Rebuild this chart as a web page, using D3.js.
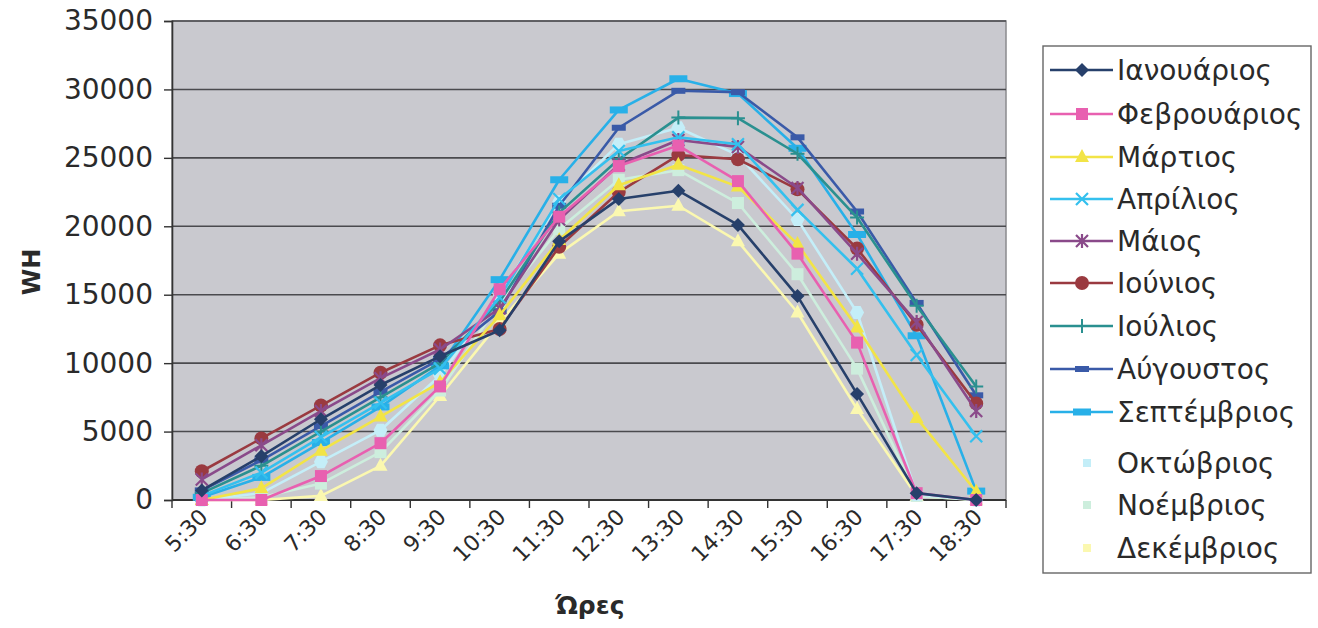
<!DOCTYPE html>
<html>
<head>
<meta charset="utf-8">
<script src="https://cdn.jsdelivr.net/npm/d3@7/dist/d3.min.js"></script>
<style>
  body { margin: 0; background: #ffffff; }
  svg { display: block; font-family: "DejaVu Sans", "Liberation Sans", sans-serif; }
</style>
</head>
<body>
<svg id="chart" width="1318" height="628"></svg>
<script>
// Hourly energy (WH) per month
const hours = ["5:30","6:30","7:30","8:30","9:30","10:30","11:30","12:30","13:30","14:30","15:30","16:30","17:30","18:30"];
const months = ["Ιανουάριος","Φεβρουάριος","Μάρτιος","Απρίλιος","Μάιος","Ιούνιος","Ιούλιος","Αύγουστος","Σεπτέμβριος","Οκτώβριος","Νοέμβριος","Δεκέμβριος"];
const yTicks = [0,5000,10000,15000,20000,25000,30000,35000];

const jan = [700, 3200, 5900, 8400, 10500, 12400, 18900, 22000, 22600, 20100, 14900, 7750, 500, 0];
const feb = [0, 0, 1750, 4150, 8300, 15400, 20700, 24400, 25900, 23300, 18000, 11500, 500, 0];
const mar = [0, 850, 3600, 6100, 8600, 13500, 19000, 23000, 24500, 22900, 18700, 12600, 6000, 600];
const apr = [300, 2000, 4600, 7100, 9600, 14800, 22000, 25500, 26500, 26000, 21200, 16900, 10600, 4660];
const may = [1500, 4000, 6500, 8900, 11000, 14000, 20500, 24500, 26300, 25800, 22800, 18000, 13000, 6500];
const jun = [2100, 4500, 6900, 9300, 11300, 12500, 18500, 22500, 25200, 24900, 22700, 18380, 12800, 7060];
const jul = [500, 2500, 5000, 7500, 10000, 14500, 21000, 24900, 27940, 27900, 25300, 20640, 14200, 8300];
const aug = [700, 2900, 5400, 7900, 10300, 13800, 21500, 27200, 29900, 29800, 26500, 21080, 14400, 7650];
const sep = [200, 1650, 4200, 6800, 9800, 16100, 23400, 28500, 30780, 29700, 25700, 19400, 12000, 650];
const oct = [0, 500, 2800, 5100, 9100, 15000, 21800, 26000, 27200, 25200, 20500, 13700, 400, 0];
const nov = [0, 200, 1200, 3500, 8000, 14400, 19800, 23400, 24100, 21700, 16500, 9600, 300, 0];
const dec = [0, 0, 300, 2500, 7600, 13000, 18000, 21100, 21500, 18900, 13700, 6650, 300, 0];

const seriesValues = [jan, feb, mar, apr, may, jun, jul, aug, sep, oct, nov, dec];
const colors = ["#27406b","#e860b0","#f2e446","#34c0ee","#8a4a8a","#9a3a40","#2a9090","#3a5aa8","#28b0e8","#c4eef8","#cdeedd","#fbf8b0"];
const markers = ["diamond","square","triangle","x","star","circle","plus","dash","wdash","hex","square","triangle"];

const svg = d3.select("#chart");
const plot = { left: 172, right: 1006, top: 21, bottom: 500 };

const x = d3.scaleBand().domain(hours).range([plot.left, plot.right]).paddingInner(0).paddingOuter(0);
const y = d3.scaleLinear().domain([0, 35000]).range([plot.bottom, plot.top]);
const cx = h => x(h) + x.bandwidth() / 2;

// plot background
svg.append("rect")
  .attr("x", plot.left).attr("y", plot.top)
  .attr("width", plot.right - plot.left).attr("height", plot.bottom - plot.top)
  .attr("fill", "#c9c9cf").attr("stroke", "#8a8a8e").attr("stroke-width", 1.5);

// horizontal gridlines
svg.append("g").selectAll("line").data(yTicks.filter(t => t > 0)).join("line")
  .attr("x1", plot.left).attr("x2", plot.right)
  .attr("y1", d => y(d)).attr("y2", d => y(d))
  .attr("stroke", "#4a4a4e").attr("stroke-width", 1.6);

// y axis
const yAxis = svg.append("g").attr("transform", `translate(${plot.left},0)`)
  .call(d3.axisLeft(y).tickValues(yTicks).tickSize(8).tickPadding(11).tickFormat(d3.format("d")));
yAxis.select(".domain").attr("stroke", "#333").attr("stroke-width", 1.6);
yAxis.selectAll(".tick line").attr("stroke", "#333").attr("stroke-width", 1.4);
yAxis.selectAll(".tick text").attr("font-size", 28).attr("fill", "#2a2a2a")
  .attr("font-family", "DejaVu Sans, sans-serif");

// x axis: baseline, tick marks between categories, rotated labels
const xAxis = svg.append("g");
xAxis.append("line").attr("x1", plot.left).attr("x2", plot.right)
  .attr("y1", plot.bottom).attr("y2", plot.bottom).attr("stroke", "#333").attr("stroke-width", 1.8);
const boundaries = hours.map(h => x(h)).concat([x(hours[hours.length - 1]) + x.step()]);
xAxis.selectAll("line.tk").data(boundaries).join("line").attr("class", "tk")
  .attr("x1", d => d).attr("x2", d => d).attr("y1", plot.bottom).attr("y2", plot.bottom + 8)
  .attr("stroke", "#333").attr("stroke-width", 1.4);
xAxis.selectAll("text").data(hours).join("text")
  .attr("transform", d => `translate(${cx(d) + 2},${plot.bottom + 13}) rotate(-45)`)
  .attr("text-anchor", "end").attr("dy", "0.35em")
  .attr("font-size", 22).attr("fill", "#2a2a2a").text(d => d);

// axis titles
svg.append("text").attr("transform", `translate(40,272) rotate(-90)`)
  .attr("text-anchor", "middle").attr("font-size", 24).attr("font-weight", "bold")
  .attr("fill", "#2a2a2a").text("WH");
svg.append("text").attr("x", 590).attr("y", 614)
  .attr("text-anchor", "middle").attr("font-size", 25).attr("font-weight", "bold")
  .attr("fill", "#2a2a2a").text("Ώρες");

// marker drawing
function drawMarker(g, type, color, px, py) {
  const s = 6;
  switch (type) {
    case "diamond":
      g.append("path").attr("d", `M${px},${py - 7}L${px + 7},${py}L${px},${py + 7}L${px - 7},${py}Z`).attr("fill", color); break;
    case "square":
      g.append("rect").attr("x", px - s).attr("y", py - s).attr("width", 2 * s).attr("height", 2 * s).attr("fill", color); break;
    case "triangle":
      g.append("path").attr("d", `M${px},${py - 8}L${px + 7},${py + 5}L${px - 7},${py + 5}Z`).attr("fill", color); break;
    case "circle":
      g.append("circle").attr("cx", px).attr("cy", py).attr("r", 7).attr("fill", color); break;
    case "x":
      g.append("path").attr("d", `M${px - 6},${py - 6}L${px + 6},${py + 6}M${px + 6},${py - 6}L${px - 6},${py + 6}`)
        .attr("stroke", color).attr("stroke-width", 2.2); break;
    case "star":
      g.append("path").attr("d", `M${px - 6},${py - 6}L${px + 6},${py + 6}M${px + 6},${py - 6}L${px - 6},${py + 6}M${px},${py - 7}L${px},${py + 7}`)
        .attr("stroke", color).attr("stroke-width", 2.2); break;
    case "plus":
      g.append("path").attr("d", `M${px - 7},${py}L${px + 7},${py}M${px},${py - 7}L${px},${py + 7}`)
        .attr("stroke", color).attr("stroke-width", 2); break;
    case "dash":
      g.append("rect").attr("x", px - 7).attr("y", py - 3).attr("width", 14).attr("height", 6).attr("fill", color); break;
    case "wdash":
      g.append("rect").attr("x", px - 9).attr("y", py - 3.5).attr("width", 18).attr("height", 7).attr("fill", color); break;
    case "hex":
      g.append("path").attr("d", `M${px - 7},${py}L${px - 3.5},${py - 6.5}L${px + 3.5},${py - 6.5}L${px + 7},${py}L${px + 3.5},${py + 6.5}L${px - 3.5},${py + 6.5}Z`).attr("fill", color); break;
  }
}

// series lines and markers (drawn last series first so the early months stay on top)
const line = d3.line().x((d, i) => cx(hours[i])).y(d => y(d));
const series = months.map((m, i) => ({ name: m, values: seriesValues[i], color: colors[i], marker: markers[i], pale: i >= 9 }));
const layer = svg.append("g");
series.slice().reverse().forEach(s => {
  const g = layer.append("g");
  g.append("path").datum(s.values).attr("d", line)
    .attr("fill", "none").attr("stroke", s.color).attr("stroke-width", 2.6).attr("stroke-linejoin", "round");
  s.values.forEach((v, i) => drawMarker(g, s.marker, s.color, cx(hours[i]), y(v)));
});

// legend (the pale series nearly vanish on the white box)
const legendRows = [70, 114, 157, 199, 241, 283, 326, 369, 412, 463, 505, 548];
const legend = svg.append("g");
legend.append("rect").attr("x", 1043).attr("y", 46).attr("width", 268).attr("height", 527)
  .attr("fill", "#ffffff").attr("stroke", "#666").attr("stroke-width", 1.4);
series.forEach((s, i) => {
  const ly = legendRows[i];
  const g = legend.append("g");
  if (!s.pale) {
    g.append("line").attr("x1", 1050).attr("x2", 1113).attr("y1", ly).attr("y2", ly)
      .attr("stroke", s.color).attr("stroke-width", 2.4);
    drawMarker(g, s.marker, s.color, 1082, ly);
  } else {
    g.append("rect").attr("x", 1083).attr("y", ly - 4).attr("width", 8).attr("height", 8)
      .attr("fill", s.color);
  }
  g.append("text").attr("x", 1117).attr("y", ly).attr("dy", "0.35em")
    .attr("font-size", 28).attr("fill", "#2a2a2a").text(s.name);
});
</script>
</body>
</html>
